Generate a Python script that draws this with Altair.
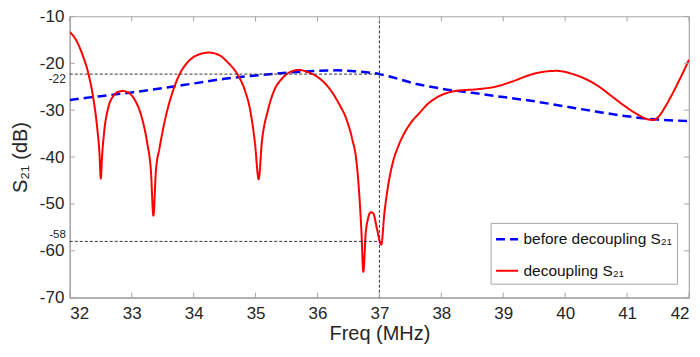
import altair as alt
import pandas as pd

# ---- data ----
freq_before = [32.0, 32.5, 33.0, 33.5, 34.0, 34.5, 35.0, 35.5, 36.0, 36.3, 36.6, 37.0,
               37.3, 37.6, 38.0, 38.5, 39.0, 39.5, 40.0, 40.5, 41.0, 41.5, 42.0]
s21_before = [-27.8, -27.0, -26.2, -25.3, -24.3, -23.3, -22.6, -22.0, -21.6, -21.5, -21.7, -22.3,
              -23.3, -24.4, -25.4, -26.3, -27.2, -28.1, -29.2, -30.3, -31.3, -32.0, -32.3]

freq_dec = [32.00, 32.10, 32.20, 32.30, 32.38, 32.44, 32.48, 32.50, 32.52, 32.56, 32.62, 32.70,
            32.80, 32.86, 32.95, 33.05, 33.15, 33.25, 33.31, 33.35, 33.39, 33.45, 33.53, 33.65,
            33.77, 33.90, 34.05, 34.25, 34.42, 34.55, 34.71, 34.82, 34.92, 34.99, 35.05, 35.10,
            35.20, 35.30, 35.43, 35.55, 35.70, 35.85, 36.03, 36.20, 36.35, 36.47, 36.56, 36.63,
            36.67, 36.71, 36.74, 36.78, 36.81, 36.86, 36.90, 36.96, 37.03, 37.08, 37.13, 37.21,
            37.31, 37.42, 37.53, 37.64, 37.77, 37.90, 38.05, 38.23, 38.60, 38.87, 39.14, 39.45,
            39.65, 39.86, 40.10, 40.37, 40.55, 40.75, 40.95, 41.13, 41.30, 41.42, 41.52, 41.61,
            41.72, 41.82, 41.92, 42.00]
s21_dec = [-13.3, -15.0, -18.0, -22.2, -27.5, -33.5, -39.5, -44.6, -40.0, -34.0, -29.5, -27.0,
           -26.0, -25.9, -26.3, -27.8, -31.0, -37.0, -43.0, -52.5, -43.0, -38.0, -32.5, -26.5,
           -22.4, -19.8, -18.3, -17.7, -18.3, -19.8, -22.4, -25.5, -30.5, -37.0, -44.7, -37.0,
           -30.0, -25.8, -23.2, -21.9, -21.4, -21.9, -23.2, -25.5, -28.7, -32.0, -36.1, -41.0,
           -47.1, -56.0, -64.5, -56.0, -53.5, -51.8, -52.0, -55.3, -58.7, -52.0, -47.0, -41.5,
           -37.5, -34.5, -32.3, -30.7, -28.8, -27.5, -26.5, -25.9, -25.5, -25.0, -23.9, -22.4,
           -21.8, -21.6, -22.2, -23.6, -25.0, -27.0, -29.0, -30.6, -31.8, -32.1, -31.2, -29.4,
           -26.8, -24.2, -21.5, -19.2]

y_ticks = [-70, -60, -50, -40, -30, -20, -10]
x_ticks = [32, 33, 34, 35, 36, 37, 38, 39, 40, 41, 42]
marker_levels = [-22.3, -58.0]
marker_labels = ["-22", "-58"]
marker_freq = [37.0]

LBL_B = "before decoupling S\u2082\u2081"
LBL_D = "decoupling S\u2082\u2081"

W, H = 621, 282
FONT = "Liberation Sans"
GRAY = "#a6a6a6"
TXT = "#262626"

df = pd.concat([
    pd.DataFrame({"f": freq_before, "s": s21_before, "series": LBL_B}),
    pd.DataFrame({"f": freq_dec, "s": s21_dec, "series": LBL_D}),
], ignore_index=True)

xs = alt.Scale(domain=[32, 42], nice=False, zero=False)
ys = alt.Scale(domain=[-70, -10], nice=False, zero=False)
dom = [LBL_B, LBL_D]

lines = alt.Chart(df).mark_line(interpolate="monotone", clip=True).encode(
    x=alt.X("f:Q", scale=xs, axis=alt.Axis(values=x_ticks, title="Freq (MHz)", ticks=False,
                                            labelPadding=8, titlePadding=2,
                                            labelExpr="'' + datum.value")),
    y=alt.Y("s:Q", scale=ys, axis=alt.Axis(values=y_ticks, title="S\u2082\u2081 (dB)", ticks=False,
                                            labelPadding=6, titlePadding=9,
                                            labelExpr="'' + datum.value")),
    color=alt.Color("series:N", scale=alt.Scale(domain=dom, range=["#0000ff", "#ff0000"]), title=None),
    strokeDash=alt.StrokeDash("series:N", scale=alt.Scale(domain=dom, range=[[9, 5], [1, 0]]), title=None),
    strokeWidth=alt.StrokeWidth("series:N", scale=alt.Scale(domain=dom, range=[2.5, 2]), title=None),
)

hdf = pd.DataFrame({"v": marker_levels, "f0": [32.0, 32.0], "f1": marker_freq * 2,
                    "lab": marker_labels})
hrules = alt.Chart(hdf).mark_rule(color="#333333", strokeDash=[3, 2], strokeWidth=1).encode(
    x=alt.X("f0:Q", scale=xs), x2="f1:Q", y=alt.Y("v:Q", scale=ys))
vdf = pd.DataFrame({"f": marker_freq, "lo": [-70], "hi": [-10]})
vrule = alt.Chart(vdf).mark_rule(color="#333333", strokeDash=[3, 2], strokeWidth=1).encode(
    x=alt.X("f:Q", scale=xs), y=alt.Y("lo:Q", scale=ys), y2="hi:Q")

lab22 = alt.Chart(hdf.iloc[[0]]).mark_text(align="right", baseline="middle", font=FONT,
                                            fontSize=12, color=TXT, dy=5).encode(
    x=alt.value(-4), y=alt.Y("v:Q", scale=ys), text="lab:N")
lab58 = alt.Chart(hdf.iloc[[1]]).mark_text(align="right", baseline="middle", font=FONT,
                                            fontSize=11.5, color=TXT, dy=-6).encode(
    x=alt.value(-4), y=alt.Y("v:Q", scale=ys), text="lab:N")

ydf = pd.DataFrame({"v": y_ticks})
xdf = pd.DataFrame({"f": x_ticks})
tk = dict(color=GRAY, strokeWidth=1)
yt_left = alt.Chart(ydf).mark_rule(**tk).encode(y=alt.Y("v:Q", scale=ys), x=alt.value(0), x2=alt.value(5))
yt_right = alt.Chart(ydf).mark_rule(**tk).encode(y=alt.Y("v:Q", scale=ys), x=alt.value(W - 5), x2=alt.value(W))
xt_bot = alt.Chart(xdf).mark_rule(**tk).encode(x=alt.X("f:Q", scale=xs), y=alt.value(H - 5), y2=alt.value(H))
xt_top = alt.Chart(xdf).mark_rule(**tk).encode(x=alt.X("f:Q", scale=xs), y=alt.value(0), y2=alt.value(5))

chart = alt.layer(lines, hrules, vrule, lab22, lab58, yt_left, yt_right, xt_bot, xt_top).properties(
    width=W, height=H,
    autosize=alt.AutoSizeParams(type="none"),
    padding={"left": 62, "top": 8, "right": 3, "bottom": 50},
).configure_view(
    stroke=GRAY, strokeWidth=1.2
).configure_axis(
    labelFont=FONT, labelFontSize=17, labelColor=TXT,
    titleFont=FONT, titleFontSize=20, titleFontWeight="normal", titleColor=TXT,
    domainColor=GRAY, domainWidth=1.2, grid=False,
).configure_legend(
    orient="none", legendX=422, legendY=207,
    fillColor="white", strokeColor=GRAY, padding=4, rowPadding=11,
    symbolType="stroke", symbolSize=484, labelFont=FONT, labelFontSize=15.5,
    labelColor="#111111", labelOffset=4, labelLimit=400,
)

chart.save("out.html", embed_options={"renderer": "svg", "actions": False})
